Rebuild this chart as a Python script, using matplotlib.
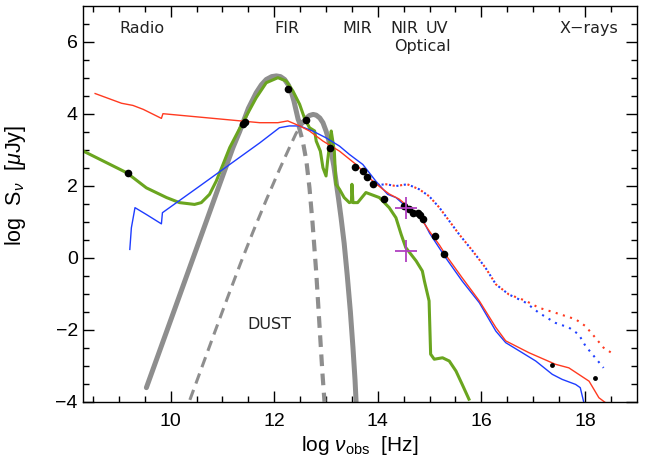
import matplotlib
matplotlib.use("Agg")
import matplotlib.pyplot as plt

plt.rcParams['font.family'] = ['Liberation Sans', 'DejaVu Sans']
plt.rcParams['mathtext.fontset'] = 'custom'
plt.rcParams['mathtext.rm'] = 'Liberation Sans'
plt.rcParams['mathtext.it'] = 'Liberation Sans:italic'

# ---------------- data (log nu [Hz], log S [uJy]) ----------------
red_x = [8.54, 9.05, 9.27, 9.47, 9.82, 9.85, 11.72, 12.07, 12.26, 12.49, 12.68, 12.94,
         13.26, 13.58, 13.9, 14.09, 14.22, 14.41, 14.61, 14.8, 14.99, 15.19, 15.31,
         15.63, 15.96, 16.28, 16.47, 16.92, 17.43, 17.69, 18.08, 18.27, 18.4]
red_y = [4.56, 4.29, 4.23, 4.12, 3.87, 4.0, 3.75, 3.75, 3.8, 3.66, 3.52, 3.24,
         2.96, 2.59, 2.13, 1.91, 1.77, 1.63, 1.39, 1.16, 0.75, 0.35, 0.08,
         -0.56, -1.2, -1.94, -2.31, -2.64, -2.96, -3.06, -3.43, -3.89, -4.03]

blue_x = [9.21, 9.24, 9.31, 9.53, 9.82, 9.84, 10.56, 11.72, 12.1, 12.29, 12.49, 12.74,
          13.0, 13.26, 13.45, 13.71, 13.96, 14.19, 14.35, 14.61, 14.86, 15.0, 15.31,
          15.63, 15.96, 16.28, 16.47, 16.79, 17.05, 17.37, 17.56, 17.82, 17.91, 17.98]
blue_y = [0.23, 0.83, 1.39, 1.2, 0.94, 1.25, 1.99, 3.19, 3.61, 3.66, 3.66, 3.52,
          3.33, 3.1, 2.87, 2.59, 2.13, 1.76, 1.67, 1.34, 1.07, 0.68, 0.0,
          -0.65, -1.25, -2.04, -2.36, -2.64, -2.87, -3.24, -3.38, -3.52, -3.61, -4.03]

red_dot_x = [14.0, 14.16, 14.35, 14.57, 14.8, 14.99, 15.19, 15.38, 15.57, 15.83, 16.08,
             16.28, 16.53, 16.86, 17.11, 17.43, 17.82, 18.01, 18.2, 18.36, 18.51]
red_dot_y = [2.02, 2.04, 1.99, 2.04, 1.9, 1.71, 1.39, 1.02, 0.65, 0.19, -0.28,
             -0.74, -1.02, -1.2, -1.39, -1.53, -1.71, -1.9, -2.22, -2.5, -2.64]
blue_dot_x = [14.0, 14.16, 14.35, 14.57, 14.8, 14.99, 15.19, 15.38, 15.57, 15.83, 16.08,
              16.28, 16.53, 16.86, 17.11, 17.43, 17.69, 17.88, 18.01, 18.2, 18.36]
blue_dot_y = [2.02, 2.04, 1.99, 2.04, 1.9, 1.71, 1.39, 1.02, 0.65, 0.19, -0.28,
              -0.74, -1.02, -1.25, -1.53, -1.81, -1.94, -2.13, -2.45, -2.78, -3.06]

green_x = [8.3, 9.15, 9.53, 9.92, 10.17, 10.46, 10.59, 10.75, 10.88, 11.01, 11.14, 11.39,
           11.65, 11.845, 12.07, 12.23, 12.36, 12.49, 12.58, 12.68, 12.78, 12.81, 12.89,
           12.94, 13.0, 13.03, 13.1, 13.13, 13.16, 13.19, 13.26, 13.35, 13.45, 13.49,
           13.5, 13.52, 13.61, 13.77, 14.03, 14.22, 14.35, 14.45, 14.54, 14.74, 14.86,
           14.9, 14.99, 15.02, 15.09, 15.25, 15.38, 15.51, 15.63, 15.76]
green_y = [2.97, 2.36, 1.94, 1.67, 1.53, 1.48, 1.53, 1.76, 2.13, 2.59, 3.06, 3.75,
           4.44, 4.86, 5.0, 4.91, 4.63, 4.26, 3.89, 3.61, 3.52, 3.24, 2.96,
           2.5, 2.27, 2.69, 3.52, 3.24, 2.96, 2.04, 1.9, 1.67, 1.53, 1.55,
           2.04, 1.53, 1.53, 1.81, 1.67, 1.39, 1.11, 0.65, 0.28, -0.09, -0.37,
           -0.65, -1.2, -2.68, -2.82, -2.78, -2.87, -3.15, -3.52, -3.93]

dust_x = [9.53, 10.62, 10.945, 11.2, 11.33, 11.5, 11.65, 11.75, 11.845, 11.95, 12.04,
          12.12, 12.2, 12.27, 12.33, 12.38, 12.42, 12.46, 12.5, 12.55, 12.62, 12.68,
          12.75, 12.81, 12.88, 12.94, 13.0, 13.05, 13.1, 13.15, 13.19, 13.24, 13.29,
          13.35, 13.41, 13.47, 13.52, 13.56, 13.58]
dust_y = [-3.61, 0.74, 2.04, 3.05, 3.5, 4.15, 4.58, 4.8, 4.95, 5.03, 5.05,
          5.03, 4.95, 4.8, 4.6, 4.35, 4.1, 3.85, 3.7, 3.75, 3.88, 3.95,
          3.98, 3.96, 3.88, 3.75, 3.52, 3.28, 2.95, 2.55, 2.15, 1.65, 1.11,
          0.4, -0.5, -1.5, -2.5, -3.4, -4.0]

cold_x = [12.47, 12.55, 12.62, 12.68, 12.74, 12.81, 12.87, 12.93, 12.97]
cold_y = [3.66, 3.24, 2.69, 1.94, 0.95, -0.4, -1.8, -3.2, -4.0]

warm_x = [10.37, 10.6, 10.85, 11.1, 11.35, 11.59, 11.85, 12.1, 12.29, 12.42, 12.55, 12.68]
warm_y = [-3.95, -3.05, -2.07, -1.1, -0.15, 0.72, 1.62, 2.45, 3.05, 3.45, 3.75, 3.92]

obs_x = [9.17, 11.39, 11.43, 12.26, 12.62, 13.08, 13.56, 13.71, 13.8, 13.9, 14.12,
         14.51, 14.61, 14.67, 14.77, 14.81, 14.88, 15.11, 15.28]
obs_y = [2.36, 3.71, 3.78, 4.69, 3.82, 3.06, 2.53, 2.41, 2.24, 2.06, 1.64,
         1.44, 1.34, 1.25, 1.25, 1.2, 1.07, 0.6, 0.09]
xray_x = [17.37, 18.2]
xray_y = [-2.99, -3.33]

plus_x = [14.54, 14.55]
plus_y = [1.37, 0.2]

band_labels = ['Radio', 'FIR', 'MIR', 'NIR', 'UV', 'Optical', 'X\u2212rays']
band_x = [9.44, 12.25, 13.6, 14.51, 15.15, 14.86, 18.07]
band_y = [6.38, 6.38, 6.38, 6.38, 6.38, 5.86, 6.38]

# ---------------- figure ----------------
W, H = 659, 466
fig = plt.figure(figsize=(W / 100, H / 100), dpi=100)
ax = fig.add_axes([82.7 / W, 1 - 401.7 / H, (636.7 - 82.7) / W, (401.7 - 5.7) / H])

gray = '#8e8e8e'
ax.plot(warm_x, warm_y, color=gray, lw=2.2, ls=(0, (3.5, 2.2)), dash_capstyle='butt')
ax.plot(cold_x, cold_y, color=gray, lw=3.0, ls=(0, (2.8, 1.8)), dash_capstyle='butt')
ax.plot(dust_x, dust_y, color=gray, lw=3.6, solid_capstyle='round', solid_joinstyle='round')

ax.plot(green_x, green_y, color='#6aa51f', lw=2.2)
ax.plot(red_dot_x, red_dot_y, color='#ff3a20', lw=1.5, ls=(0, (1, 2.6)))
ax.plot(blue_dot_x, blue_dot_y, color='#2040ff', lw=1.5, ls=(1.8, (1, 2.6)))
ax.plot(blue_x, blue_y, color='#1e3cff', lw=1.0)
ax.plot(red_x, red_y, color='#ff3a20', lw=1.0)

ax.plot(obs_x, obs_y, 'o', color='black', ms=5.5, mec='none')
ax.plot(xray_x, xray_y, 'o', color='black', ms=3.5, mec='none')
ax.plot(plus_x, plus_y, '+', color='#b040c0', ms=16, mew=1.3)

for t, x, y in zip(band_labels, band_x, band_y):
    ax.text(x, y, t, ha='center', va='center', fontsize=11.5, family='DejaVu Sans', color='#222222')
ax.text(11.91, -1.85, 'DUST', ha='center', va='center', fontsize=11.5, family='DejaVu Sans', color='#222222')

ax.set_xlim(8.3, 19)
ax.set_ylim(-4, 7)
ax.set_xticks([10, 12, 14, 16, 18])
ax.set_yticks([-4, -2, 0, 2, 4, 6])
ax.set_xticks([x / 2 for x in range(17, 38)], minor=True)
ax.set_yticks([y / 2 for y in range(-8, 14)], minor=True)
ax.tick_params(which='both', direction='in', top=True, right=True, width=1.0, labelsize=14)
ax.tick_params(which='major', length=8)
ax.tick_params(which='minor', length=4.5)
ax.tick_params(axis='x', pad=8)
for s in ax.spines.values():
    s.set_linewidth(1.0)

ax.set_xlabel(r'log $\nu_{\rm obs}$  [Hz]', fontsize=15, labelpad=3)
ax.set_ylabel(r'log  S$_\nu$  [$\mu$Jy]', fontsize=15.5)
ax.yaxis.set_label_coords(-0.098, 0.545)

fig.savefig('out.png', dpi=100)
